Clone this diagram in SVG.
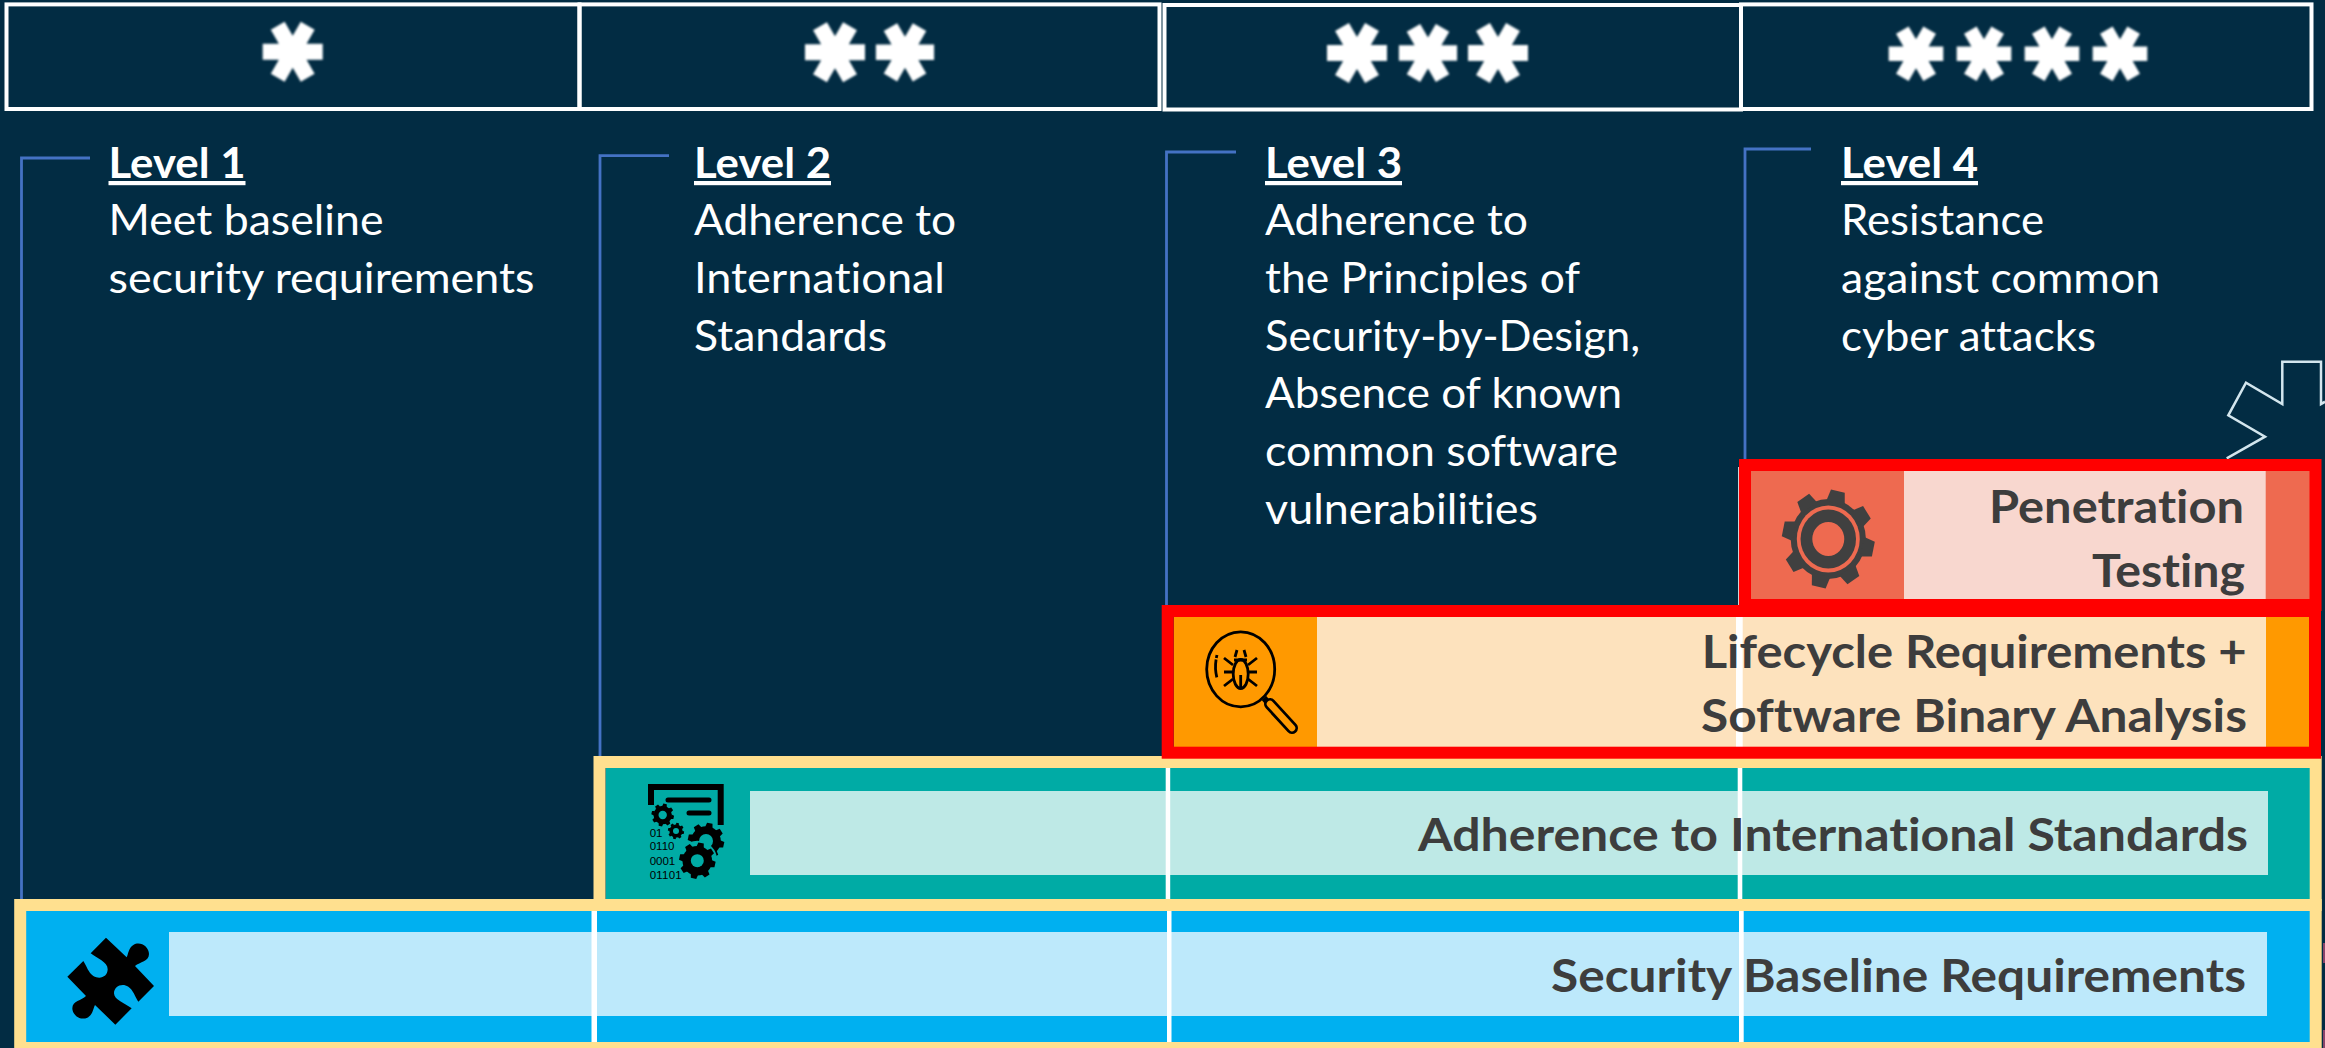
<svg xmlns="http://www.w3.org/2000/svg" xmlns:xlink="http://www.w3.org/1999/xlink" width="2325" height="1048" viewBox="0 0 2325 1048">
<style>
text{font-variant-ligatures:none}
.cell{fill:none;stroke:#fff;stroke-width:4}
.star{fill:#fff}
.lvl{font-family:"Lato","Liberation Sans",sans-serif;fill:#fff;font-size:42px}
.hd{font-weight:700;text-decoration:underline}
.band{font-family:"Lato","Liberation Sans",sans-serif;font-weight:700;font-size:45px;fill:#3d3d3d}
.bk{fill:none;stroke:#4472c4;stroke-width:2.800}
.wl{fill:#fff}
.gold{fill:none;stroke:#ffe08f;stroke-width:12}
.red{fill:none;stroke:#f00;stroke-width:12}
.dg{font-family:"Liberation Sans",sans-serif;font-size:11.500px;fill:#000}
</style>
<defs>
<filter id="soft" x="-10%" y="-10%" width="120%" height="120%"><feGaussianBlur stdDeviation="1"/></filter>
<polygon id="st" points="30,-8 30,8 13.86,8 21.93,21.98 8.07,29.98 0,16 -8.07,29.98 -21.93,21.98 -13.86,8 -30,8 -30,-8 -13.86,-8 -21.93,-21.98 -8.07,-29.98 0,-16 8.07,-29.98 21.93,-21.98 13.86,-8"/>
<path id="tooth" d="M-10 -37L-7.5 -49L7.5 -49L10 -37Z"/>
<g id="cog">
<circle r="40"/>
<use xlink:href="#tooth" transform="rotate(12)"/>
<use xlink:href="#tooth" transform="rotate(57)"/>
<use xlink:href="#tooth" transform="rotate(102)"/>
<use xlink:href="#tooth" transform="rotate(147)"/>
<use xlink:href="#tooth" transform="rotate(192)"/>
<use xlink:href="#tooth" transform="rotate(237)"/>
<use xlink:href="#tooth" transform="rotate(282)"/>
<use xlink:href="#tooth" transform="rotate(327)"/>
</g>
</defs>
<rect width="2325" height="1048" fill="#022c43"/>
<rect x="2323" y="943" width="2" height="20" fill="#8a4468"/>
<rect x="2323" y="1030" width="2" height="18" fill="#8a4468"/>

<g id="connectors">
<path class="bk" d="M21.500 899V158H90"/>
<path class="bk" d="M600 756V155.700H669"/>
<path class="bk" d="M1166.500 605V152H1236"/>
<path class="bk" d="M1745 460V149H1811"/>
</g>

<g id="header-1"><rect class="cell" x="6.500" y="4.400" width="573" height="104.600"/>
<use class="star" xlink:href="#st" transform="translate(292.700 51.700)" filter="url(#soft)"/></g>
<g id="header-2"><rect class="cell" x="579.500" y="4.400" width="580" height="104.600"/>
<use class="star" xlink:href="#st" transform="translate(835 52.300)" filter="url(#soft)"/>
<use class="star" xlink:href="#st" transform="translate(905 52.300) scale(.97)" filter="url(#soft)"/></g>
<g id="header-3"><rect class="cell" x="1164.500" y="5" width="576.500" height="104.500"/>
<use class="star" xlink:href="#st" transform="translate(1357 53)" filter="url(#soft)"/>
<use class="star" xlink:href="#st" transform="translate(1428 53) scale(.97)" filter="url(#soft)"/>
<use class="star" xlink:href="#st" transform="translate(1498 53)" filter="url(#soft)"/></g>
<g id="header-4"><rect class="cell" x="1741" y="4.400" width="570.500" height="104.600"/>
<use class="star" xlink:href="#st" transform="translate(1916 53.700) scale(.91)" filter="url(#soft)"/>
<use class="star" xlink:href="#st" transform="translate(1984 53.700) scale(.91)" filter="url(#soft)"/>
<use class="star" xlink:href="#st" transform="translate(2052 53.700) scale(.91)" filter="url(#soft)"/>
<use class="star" xlink:href="#st" transform="translate(2120 53.700) scale(.91)" filter="url(#soft)"/></g>

<g id="level-1">
<text class="lvl hd" x="108.500" y="178" textLength="137" lengthAdjust="spacingAndGlyphs">Level 1</text>
<text class="lvl" x="108.500" y="235" textLength="275" lengthAdjust="spacingAndGlyphs">Meet baseline</text>
<text class="lvl" x="108.500" y="293" textLength="426" lengthAdjust="spacingAndGlyphs">security requirements</text>
</g>
<g id="level-2">
<text class="lvl hd" x="694" y="178" textLength="137" lengthAdjust="spacingAndGlyphs">Level 2</text>
<text class="lvl" x="694" y="235" textLength="262" lengthAdjust="spacingAndGlyphs">Adherence to</text>
<text class="lvl" x="694" y="293" textLength="251" lengthAdjust="spacingAndGlyphs">International</text>
<text class="lvl" x="694" y="351" textLength="193" lengthAdjust="spacingAndGlyphs">Standards</text>
</g>
<g id="level-3">
<text class="lvl hd" x="1265" y="178" textLength="137" lengthAdjust="spacingAndGlyphs">Level 3</text>
<text class="lvl" x="1265" y="235" textLength="263" lengthAdjust="spacingAndGlyphs">Adherence to</text>
<text class="lvl" x="1265" y="293" textLength="315" lengthAdjust="spacingAndGlyphs">the Principles of</text>
<text class="lvl" x="1265" y="351" textLength="375" lengthAdjust="spacingAndGlyphs">Security-by-Design,</text>
<text class="lvl" x="1265" y="408" textLength="357" lengthAdjust="spacingAndGlyphs">Absence of known</text>
<text class="lvl" x="1265" y="466" textLength="353" lengthAdjust="spacingAndGlyphs">common software</text>
<text class="lvl" x="1265" y="524" textLength="273" lengthAdjust="spacingAndGlyphs">vulnerabilities</text>
</g>
<g id="level-4">
<text class="lvl hd" x="1841" y="178" textLength="137" lengthAdjust="spacingAndGlyphs">Level 4</text>
<text class="lvl" x="1841" y="235" textLength="203" lengthAdjust="spacingAndGlyphs">Resistance</text>
<text class="lvl" x="1841" y="293" textLength="319" lengthAdjust="spacingAndGlyphs">against common</text>
<text class="lvl" x="1841" y="351" textLength="255" lengthAdjust="spacingAndGlyphs">cyber attacks</text>
</g>

<g id="outline-star">
<path d="M2226.700 458.300L2265 436.700L2228.300 415.300L2246 382.700L2282.300 404V361.700H2321V404L2325 401.700" fill="none" stroke="#d3e6ee" stroke-width="2.500"/>
</g>

<g id="baseline-band">
<rect x="26" y="911" width="2284" height="131" fill="#00b0f0"/>
<rect x="169" y="932" width="2098" height="84" fill="#bde9fb"/>
<rect class="wl" x="591.500" y="911" width="5.500" height="131"/>
<rect class="wl" x="1167" y="911" width="4.500" height="131"/>
<rect class="wl" x="1739" y="911" width="4.700" height="131"/>
<rect class="gold" x="20.200" y="905" width="2295.500" height="143"/>
<path transform="translate(0 880) scale(.33333)" fill="#000" d="M318 173L380 232C385 222 385 205 400 195C420 182 447 200 447 222C447 245 420 245 405 258L462 318L415 365C405 350 400 330 385 320C365 308 342 320 342 340C342 360 375 370 395 385L346 434L285 375C278 390 278 405 262 413C240 423 217 405 217 385C217 362 245 362 258 348L202 290L250 243C260 258 265 278 280 288C300 300 323 290 323 268C323 245 290 235 272 220Z"/>
<text class="band" x="1551" y="991.700" textLength="695" lengthAdjust="spacingAndGlyphs">Security Baseline Requirements</text>
</g>

<g id="standards-band">
<rect x="605.700" y="768" width="1704.300" height="131" fill="#00aba5"/>
<rect x="750" y="791" width="1518" height="84" fill="#bee9e6"/>
<rect class="wl" x="1165.700" y="768" width="4.500" height="131"/>
<rect class="wl" x="1737.700" y="768" width="4.600" height="131"/>
<rect class="gold" x="599.500" y="762" width="1716.200" height="143"/>
<g fill="#000">
<path d="M651 805V787H720.700V825" fill="none" stroke="#000" stroke-width="6"/>
<path d="M668 800H709M689 813H709" fill="none" stroke="#000" stroke-width="5" stroke-linecap="round"/>
<use xlink:href="#cog" transform="translate(662.700 815) scale(.23)"/><circle cx="662.700" cy="815" r="4.200" fill="#00aba5"/>
<use xlink:href="#cog" transform="translate(676 831) scale(.165)"/><circle cx="676" cy="831" r="3" fill="#00aba5"/>
<use xlink:href="#cog" transform="translate(706 841) scale(.37)"/><circle cx="706" cy="841" r="7" fill="#00aba5"/>
<circle cx="697.300" cy="860.700" r="20" fill="#00aba5"/>
<use xlink:href="#cog" transform="translate(697.300 860.700) scale(.37)"/><circle cx="697.300" cy="860.700" r="6.500" fill="#00aba5"/>
</g>
<text class="dg" x="649.700" y="837.300">01</text>
<text class="dg" x="649.700" y="850.300">0110</text>
<text class="dg" x="649.700" y="864.700">0001</text>
<text class="dg" x="649.700" y="878.700" textLength="32" lengthAdjust="spacing">01101</text>
<text class="band" x="1418" y="850.700" textLength="830" lengthAdjust="spacingAndGlyphs">Adherence to International Standards</text>
</g>

<g id="lifecycle-band">
<rect x="1173.700" y="617" width="1135.300" height="130" fill="#f90"/>
<rect x="1317" y="617" width="949" height="130" fill="#fde2bd"/>
<rect class="wl" x="1736" y="617" width="6.700" height="130"/>
<rect class="red" x="1167.700" y="611" width="1147.300" height="141.700"/>
<g fill="none" stroke="#000" stroke-width="2.800">
<ellipse cx="1240.700" cy="669.300" rx="34" ry="37.500"/>
<path d="M1217 655Q1214 667 1217 678" stroke-dasharray="3 1.500 18"/>
<path d="M1264 698L1269 704" stroke-width="6"/>
<path d="M1270 704L1292 728" stroke-width="12" stroke-linecap="round"/>
<path d="M1270 704L1292 728" stroke="#f90" stroke-width="6.500" stroke-linecap="round"/>
<ellipse cx="1240.700" cy="674" rx="7.500" ry="14.500"/>
<path d="M1240.700 675V688M1234 660H1247M1235 657L1237 650M1246 657L1244 650M1233 665L1224 658M1248 665L1257 658M1233 672H1224M1248 672H1257M1233 679L1224 686M1248 679L1257 686"/>
</g>
<text class="band" x="1701.700" y="668.300" textLength="545" lengthAdjust="spacingAndGlyphs">Lifecycle Requirements +</text>
<text class="band" x="1701" y="731.700" textLength="546" lengthAdjust="spacingAndGlyphs">Software Binary Analysis</text>
</g>

<g id="penetration-band">
<rect x="1738.200" y="467" width="1.200" height="138" fill="#fff"/>
<rect x="1751" y="471" width="559" height="128" fill="#ee6a50"/>
<rect x="1904" y="471" width="361.700" height="128" fill="#f8d7cf"/>
<rect class="red" x="1745" y="465" width="570.500" height="140"/>
<g transform="translate(1828.300 539) scale(.94 1)">
<use xlink:href="#cog" fill="#404040"/>
<circle r="33.500" fill="#ee6a50"/>
<circle r="29.500" fill="#404040"/>
<circle r="17" fill="#ee6a50"/>
</g>
<text class="band" x="1989" y="523" textLength="255" lengthAdjust="spacingAndGlyphs">Penetration</text>
<text class="band" x="2092" y="586.700" textLength="153" lengthAdjust="spacingAndGlyphs">Testing</text>
</g>
</svg>
